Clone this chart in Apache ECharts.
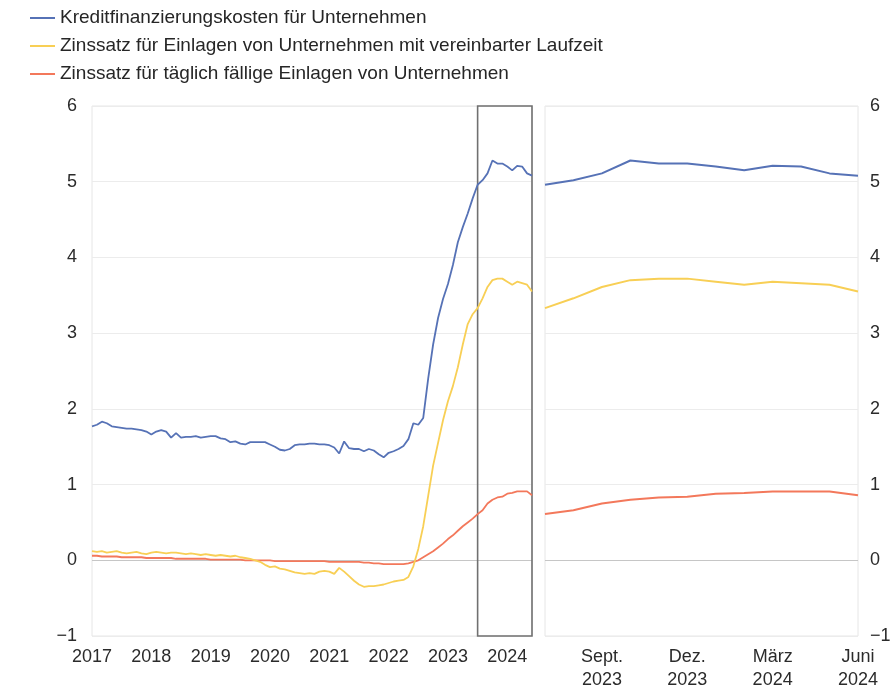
<!DOCTYPE html>
<html>
<head>
<meta charset="utf-8">
<script src="https://cdn.jsdelivr.net/npm/echarts@6/dist/echarts.min.js"></script>
<style>
  html, body { margin: 0; padding: 0; background: #fff; }
  #chart { width: 896px; height: 687px; }
</style>
</head>
<body>
<div id="chart"></div>
<script>
// monthly observations, Jan 2017 .. Jun 2024
const startYear = 2017;
const monthCount = 90;

const kreditkosten = [
  1.77, 1.79, 1.83, 1.81, 1.77, 1.76, 1.75, 1.74, 1.74, 1.73, 1.72, 1.70,
  1.66, 1.70, 1.72, 1.70, 1.62, 1.68, 1.62, 1.63, 1.63, 1.64, 1.62, 1.63,
  1.64, 1.64, 1.61, 1.60, 1.56, 1.57, 1.54, 1.53, 1.56, 1.56, 1.56, 1.56,
  1.53, 1.50, 1.46, 1.45, 1.47, 1.52, 1.53, 1.53, 1.54, 1.54, 1.53, 1.53,
  1.52, 1.49, 1.41, 1.57, 1.48, 1.47, 1.47, 1.44, 1.47, 1.45, 1.40, 1.36,
  1.42, 1.44, 1.47, 1.51, 1.60, 1.81, 1.79, 1.88, 2.40, 2.85, 3.20, 3.45,
  3.65, 3.90, 4.20, 4.40, 4.58, 4.78, 4.96, 5.02, 5.11, 5.28, 5.24, 5.24,
  5.20, 5.15, 5.21, 5.20, 5.11, 5.08
];
const einlagenLaufzeit = [
  0.12, 0.11, 0.12, 0.10, 0.11, 0.12, 0.10, 0.09, 0.10, 0.11, 0.09, 0.08,
  0.10, 0.11, 0.10, 0.09, 0.10, 0.10, 0.09, 0.08, 0.09, 0.08, 0.07, 0.08,
  0.07, 0.06, 0.07, 0.06, 0.05, 0.06, 0.04, 0.03, 0.02, 0.00, -0.02, -0.06,
  -0.09, -0.08, -0.11, -0.12, -0.14, -0.16, -0.17, -0.18, -0.17, -0.18, -0.15, -0.14,
  -0.15, -0.18, -0.10, -0.15, -0.21, -0.27, -0.32, -0.35, -0.34, -0.34, -0.33, -0.32,
  -0.30, -0.28, -0.27, -0.26, -0.22, -0.08, 0.15, 0.45, 0.85, 1.25, 1.55, 1.85,
  2.10, 2.30, 2.55, 2.85, 3.12, 3.25, 3.33, 3.46, 3.61, 3.70, 3.72, 3.72,
  3.68, 3.64, 3.68, 3.66, 3.64, 3.55
];
const einlagenTaeglich = [
  0.06, 0.06, 0.05, 0.05, 0.05, 0.05, 0.04, 0.04, 0.04, 0.04, 0.04, 0.03,
  0.03, 0.03, 0.03, 0.03, 0.03, 0.02, 0.02, 0.02, 0.02, 0.02, 0.02, 0.02,
  0.01, 0.01, 0.01, 0.01, 0.01, 0.01, 0.01, 0.00, 0.00, 0.00, 0.00, 0.00,
  0.00, -0.01, -0.01, -0.01, -0.01, -0.01, -0.01, -0.01, -0.01, -0.01, -0.01, -0.01,
  -0.02, -0.02, -0.02, -0.02, -0.02, -0.02, -0.02, -0.03, -0.03, -0.04, -0.04, -0.05,
  -0.05, -0.05, -0.05, -0.05, -0.04, -0.02, 0.00, 0.04, 0.08, 0.12, 0.17, 0.22,
  0.28, 0.33, 0.39, 0.45, 0.50, 0.55, 0.61, 0.66, 0.75, 0.80, 0.83, 0.84,
  0.88, 0.89, 0.91, 0.91, 0.91, 0.86
];

const seriesNames = [
  "Kreditfinanzierungskosten für Unternehmen",
  "Zinssatz für Einlagen von Unternehmen mit vereinbarter Laufzeit",
  "Zinssatz für täglich fällige Einlagen von Unternehmen",
];
const seriesColors = ["#5672b6", "#f8cf55", "#f3785b"];

// zoomed panel: Jul 2023 .. Jun 2024
const zoomStart = 78;
const zoomTickIdx = [2, 5, 8, 11];
const zoomTickLabels = ["Sept.\n2023", "Dez.\n2023", "März\n2024", "Juni\n2024"];

const yTicks = [-1, 0, 1, 2, 3, 4, 5, 6];

const months = [];
for (let i = 0; i < monthCount; i++) {
  const y = startYear + Math.floor(i / 12);
  const m = (i % 12) + 1;
  months.push(y + "-" + (m < 10 ? "0" + m : m));
}
const zoomMonths = months.slice(zoomStart);

const font = 'Arial, "Liberation Sans", sans-serif';
const gridLineColors = yTicks.map((v) => (v === 0 ? "#c6c6c6" : "#ececec"));
const labelSize = 18;

const yAxisBase = {
  type: "value",
  min: yTicks[0],
  max: yTicks[yTicks.length - 1],
  interval: 1,
  axisLine: { show: false },
  axisTick: { show: false },
  splitLine: { lineStyle: { color: gridLineColors, width: 1 } },
  axisLabel: {
    fontSize: labelSize,
    color: "#2b2b2b",
    fontFamily: font,
    formatter: (v) => String(v).replace("-", "\u2212"),
  },
};

const allSeries = [kreditkosten, einlagenLaufzeit, einlagenTaeglich];
const series = [];
allSeries.forEach((data, k) => {
  const left = {
    name: seriesNames[k],
    type: "line",
    xAxisIndex: 0,
    yAxisIndex: 0,
    data: data,
    symbol: "none",
    lineStyle: { width: 1.8, color: seriesColors[k] },
    itemStyle: { color: seriesColors[k] },
    z: 3 - k + 2,
  };
  if (k === 0) {
    left.markArea = {
      silent: true,
      itemStyle: { color: "rgba(0,0,0,0)", borderColor: "#707070", borderWidth: 1.6 },
      data: [[{ xAxis: months[zoomStart] }, { xAxis: months[monthCount - 1] }]],
    };
  }
  series.push(left);
  series.push({
    name: seriesNames[k],
    type: "line",
    xAxisIndex: 1,
    yAxisIndex: 1,
    data: data.slice(zoomStart),
    symbol: "none",
    lineStyle: { width: 2, color: seriesColors[k] },
    itemStyle: { color: seriesColors[k] },
  });
});

const chart = echarts.init(document.getElementById("chart"));
chart.setOption({
  animation: false,
  backgroundColor: "#fff",
  color: seriesColors,
  textStyle: { fontFamily: font },
  legend: {
    data: seriesNames,
    orient: "vertical",
    left: 30,
    top: 8,
    padding: 0,
    icon: "rect",
    itemWidth: 25,
    itemHeight: 2,
    itemGap: 8,
    textStyle: { fontSize: 19, color: "#262626", fontFamily: font, lineHeight: 20 },
    selectedMode: false,
  },
  grid: [
    { left: 92, top: 106, width: 440, height: 530, outerBoundsMode: "none", show: true, borderColor: "#e6e6e6", borderWidth: 1 },
    { left: 545, top: 106, width: 313, height: 530, outerBoundsMode: "none", show: true, borderColor: "#e6e6e6", borderWidth: 1 },
  ],
  xAxis: [
    {
      type: "category",
      gridIndex: 0,
      data: months,
      boundaryGap: false,
      axisLine: { show: false },
      axisTick: { show: false },
      splitLine: { show: false },
      axisLabel: {
        fontSize: labelSize,
        color: "#2b2b2b",
        margin: 12,
        interval: (i) => i % 12 === 0,
        formatter: (v) => v.slice(0, 4),
      },
    },
    {
      type: "category",
      gridIndex: 1,
      data: zoomMonths,
      boundaryGap: false,
      axisLine: { show: false },
      axisTick: { show: false },
      splitLine: { show: false },
      axisLabel: {
        fontSize: labelSize,
        color: "#2b2b2b",
        margin: 10,
        lineHeight: 23,
        interval: (i) => zoomTickIdx.indexOf(i) >= 0,
        formatter: (v, i) => zoomTickLabels[zoomTickIdx.indexOf(i)] || "",
      },
    },
  ],
  yAxis: [
    Object.assign({}, yAxisBase, { gridIndex: 0, position: "left", axisLabel: Object.assign({}, yAxisBase.axisLabel, { margin: 15 }) }),
    Object.assign({}, yAxisBase, { gridIndex: 1, position: "right", axisLabel: Object.assign({}, yAxisBase.axisLabel, { margin: 12 }) }),
  ],
  series: series,
});
</script>
</body>
</html>
